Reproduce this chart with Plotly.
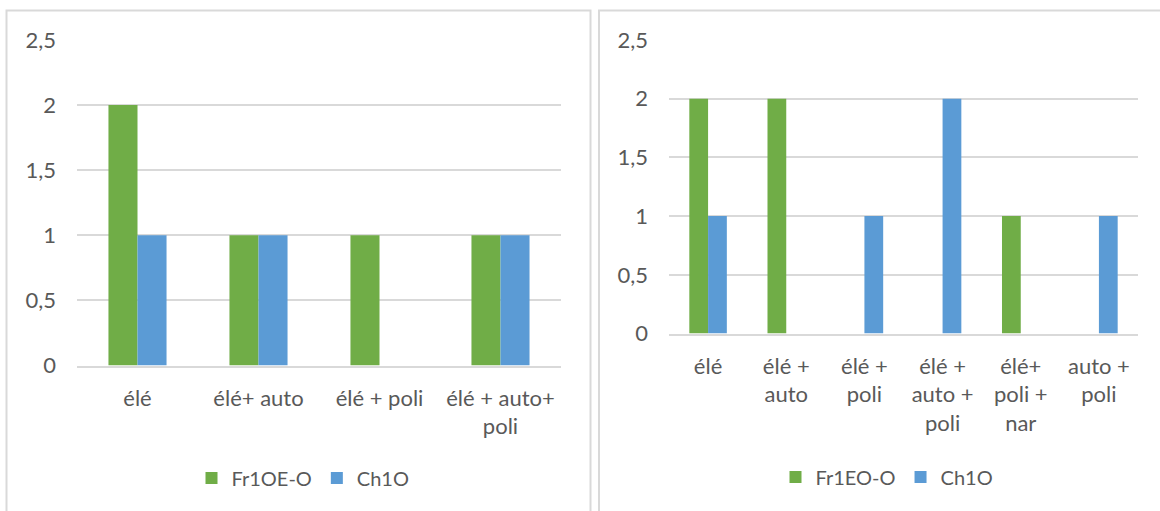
import plotly.graph_objects as go

# ---- data ----
left_categories = ["élé", "élé+ auto", "élé + poli", "élé + auto+<br>poli"]
left_fr = [2, 1, 1, 1]
left_ch = [1, 1, 0, 1]
left_names = ["Fr1OE-O", "Ch1O"]

right_categories = ["élé", "élé +<br>auto", "élé +<br>poli", "élé +<br>auto +<br>poli",
                    "élé+<br>poli +<br>nar", "auto +<br>poli"]
right_fr = [2, 2, 0, 0, 1, 0]
right_ch = [1, 0, 1, 2, 0, 1]
right_names = ["Fr1EO-O", "Ch1O"]

y_tickvals = [0, 0.5, 1, 1.5, 2, 2.5]
y_ticktext = ["0", "0,5", "1", "1,5", "2", "2,5"]

GREEN = "#70AD47"
BLUE = "#5B9BD5"
GRID = "#D9D9D9"
TXT = "#595959"
FONT = "Lato"
FS = 22
LFS = 20

W, H = 1160, 511

fig = go.Figure()
fig.add_trace(go.Bar(x=left_categories, y=left_fr, name=left_names[0], marker_color=GREEN,
                     marker_line_width=0, xaxis="x", yaxis="y", legend="legend"))
fig.add_trace(go.Bar(x=left_categories, y=left_ch, name=left_names[1], marker_color=BLUE,
                     marker_line_width=0, xaxis="x", yaxis="y", legend="legend"))
fig.add_trace(go.Bar(x=right_categories, y=right_fr, name=right_names[0], marker_color=GREEN,
                     marker_line_width=0, xaxis="x2", yaxis="y2", legend="legend2"))
fig.add_trace(go.Bar(x=right_categories, y=right_ch, name=right_names[1], marker_color=BLUE,
                     marker_line_width=0, xaxis="x2", yaxis="y2", legend="legend2"))

def px_x(p):
    return p / W

def px_y(p):
    return 1 - p / H

xcommon = dict(showgrid=False, zeroline=False, showline=True, linecolor=GRID, linewidth=1.5,
               ticks="", tickfont=dict(family=FONT, size=FS, color=TXT), ticklabelstandoff=12,
               fixedrange=True, automargin=False)
ycommon = dict(range=[0, 2.5], tickvals=y_tickvals, ticktext=y_ticktext, showgrid=True,
               gridcolor=GRID, gridwidth=1.5, zeroline=False, showline=False, ticks="",
               tickfont=dict(family=FONT, size=FS, color=TXT), ticklabelstandoff=20,
               fixedrange=True, automargin=False)

fig.update_layout(
    width=W, height=H,
    margin=dict(l=0, r=0, t=0, b=0, autoexpand=False),
    paper_bgcolor="white", plot_bgcolor="white",
    barmode="group", bargap=0.52, bargroupgap=0,
    font=dict(family=FONT, size=FS, color=TXT),
    xaxis=dict(domain=[px_x(77), px_x(561)], anchor="y", **xcommon),
    yaxis=dict(domain=[px_y(365.5), px_y(40)], anchor="x", **ycommon),
    xaxis2=dict(domain=[px_x(669), px_x(1138)], anchor="y2", **xcommon),
    yaxis2=dict(domain=[px_y(333.5), px_y(40)], anchor="x2", **ycommon),
    legend=dict(orientation="h", x=px_x(303), xanchor="center", y=px_y(478), yanchor="middle",
                font=dict(family=FONT, size=LFS, color=TXT), itemwidth=30, bgcolor="rgba(0,0,0,0)"),
    legend2=dict(orientation="h", x=px_x(887), xanchor="center", y=px_y(477), yanchor="middle",
                 font=dict(family=FONT, size=LFS, color=TXT), itemwidth=30, bgcolor="rgba(0,0,0,0)"),
    showlegend=True,
    shapes=[
        dict(type="rect", xref="paper", yref="paper", x0=px_x(6.5), x1=px_x(590.5),
             y0=px_y(530), y1=px_y(10.5), line=dict(color=GRID, width=2), fillcolor="rgba(0,0,0,0)", layer="below"),
        dict(type="rect", xref="paper", yref="paper", x0=px_x(599), x1=px_x(1200),
             y0=px_y(530), y1=px_y(10.5), line=dict(color=GRID, width=2), fillcolor="rgba(0,0,0,0)", layer="below"),
    ],
)

fig.write_html("out.html", config={"displayModeBar": False},
               post_script="document.body.style.margin='0px';")
